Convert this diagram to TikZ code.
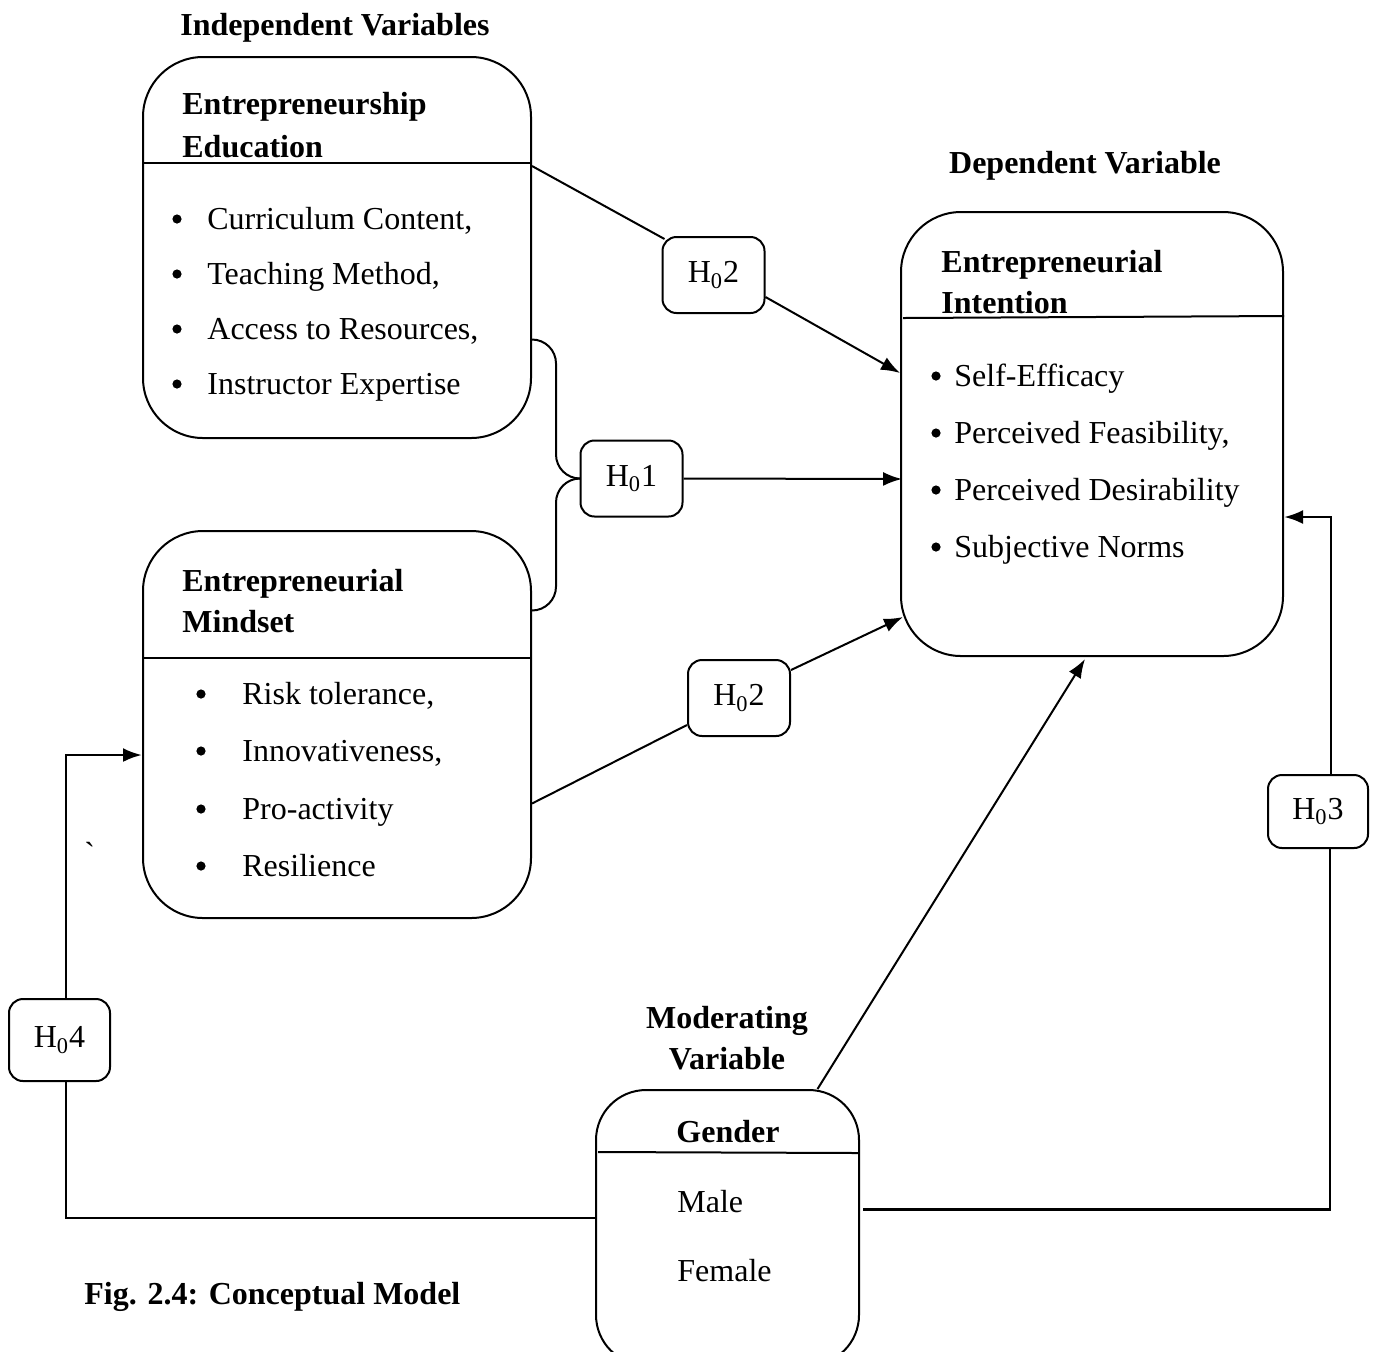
\documentclass[tikz,border=0pt]{standalone}
\usepackage{fontspec}
\setmainfont{Liberation Serif}
\usetikzlibrary{calc,arrows.meta,positioning}

\begin{document}
\begin{tikzpicture}[x=0.5pt,y=-0.5pt,>={Latex[length=9.5pt,width=7pt]},
	box/.style={draw,line width=1pt,rounded corners=30pt,inner sep=0pt},
	hyp/.style={draw,line width=1pt,rounded corners=7pt,minimum width=51pt,minimum height=38pt,inner sep=0pt,font=\fontsize{16}{19}\selectfont},
	head/.style={font=\fontsize{16}{19}\selectfont\bfseries,anchor=base west,inner sep=0pt},
	item/.style={font=\fontsize{16}{19}\selectfont,anchor=base west,inner sep=0pt},
	dot/.style={circle,fill,inner sep=0pt,minimum size=4.6pt},
	link/.style={line width=1pt},
	loop/.style={line width=1.4pt}]
	\useasboundingbox (0,0) rectangle (1374,1351);
	\clip (0,0) rectangle (1374,1351);

	% boxes
	\node (EE)  at (337,247.5)    [box,minimum width=194pt,minimum height=190.5pt] {};
	\node (EM)  at (337,724.5)    [box,minimum width=194pt,minimum height=193.5pt] {};
	\node (EI)  at (1092,434)     [box,minimum width=191pt,minimum height=222pt]   {};
	\node (G)   at (727.5,1227.5) [box,rounded corners=25pt,minimum width=131.5pt,minimum height=137.5pt] {};
	\draw [link] (143,163) -- (532,163);
	\draw [link] (143,658) -- (531,658);
	\draw [link] (903,318) -- (1284,316);
	\draw [link] (598,1152) -- (859,1153);

	% hypotheses
	\node (H2a) at (713.5,275)  [hyp] {H\textsubscript{0}2};
	\node (H1)  at (631.5,478.5)[hyp] {H\textsubscript{0}1};
	\node (H2b) at (739,698)    [hyp] {H\textsubscript{0}2};
	\node (H3)  at (1318,811.5) [hyp,minimum width=50pt,minimum height=36.5pt] {H\textsubscript{0}3};
	\node (H4)  at (59.5,1040)  [hyp,minimum width=50.5pt,minimum height=41pt] {H\textsubscript{0}4};

	% headings
	\node (tIV) at (335,35)   [head,anchor=base] {Independent Variables};
	\node (tDV) at (1085,173) [head,anchor=base] {Dependent Variable};
	\node (tMV1) at (727,1028) [head,anchor=base] {Moderating};
	\node (tMV2) at (727,1069) [head,anchor=base] {Variable};
	\node (cap) at (84,1304)  [head] {Fig. 2.4: Conceptual Model};

	% Entrepreneurship Education
	\node (ee1) at (182,114) [head] {Entrepreneurship};
	\node (ee2) at (182,157) [head] {Education};
	\node (eeb1) at (177,219) [dot] {};
	\node (eeb2) at (177,274) [dot] {};
	\node (eeb3) at (177,329) [dot] {};
	\node (eeb4) at (177,384) [dot] {};
	\node (eei1) at (207,229) [item] {Curriculum Content,};
	\node (eei2) at (207,284) [item] {Teaching Method,};
	\node (eei3) at (207,339) [item] {Access to Resources,};
	\node (eei4) at (207,394) [item] {Instructor Expertise};

	% Entrepreneurial Mindset
	\node (em1) at (182,591) [head] {Entrepreneurial};
	\node (em2) at (182,632) [head] {Mindset};
	\node (emb1) at (201,694) [dot] {};
	\node (emb2) at (201,751) [dot] {};
	\node (emb3) at (201,809) [dot] {};
	\node (emb4) at (201,866) [dot] {};
	\node (emi1) at (242,704) [item] {Risk tolerance,};
	\node (emi2) at (242,761) [item] {Innovativeness,};
	\node (emi3) at (242,819) [item] {Pro-activity};
	\node (emi4) at (242,876) [item] {Resilience};
	\node (tick) at (84,864) [item] {\textasciigrave};

	% Entrepreneurial Intention
	\node (ei1) at (941,272) [head] {Entrepreneurial};
	\node (ei2) at (941,313) [head] {Intention};
	\node (eib1) at (936,376) [dot] {};
	\node (eib2) at (936,433) [dot] {};
	\node (eib3) at (936,490) [dot] {};
	\node (eib4) at (936,547) [dot] {};
	\node (eii1) at (954,386) [item] {Self-Efficacy};
	\node (eii2) at (954,443) [item] {Perceived Feasibility,};
	\node (eii3) at (954,500) [item] {Perceived Desirability};
	\node (eii4) at (954,557) [item] {Subjective Norms};

	% Gender
	\node (g0) at (728,1142) [head,anchor=base] {Gender};
	\node (g1) at (677,1212) [item] {Male};
	\node (g2) at (677,1281) [item] {Female};

	% connectors
	\draw [link]    ($(EE.north east)+(0,110)$) -- ($(H2a.north west)+(3,3)$);
	\draw [link,->] ($(H2a.east)+(0,22)$) -- ($(EI.west)+(0,-61)$);
	\draw [link,rounded corners=12pt] ($(EE.east)+(0,92)$) -- ++(24,0) |- (H1.west);
	\draw [link,rounded corners=12pt] ($(EM.east)+(0,-114)$) -- ++(24,0) |- (H1.west);
	\draw [link,->] (H1.east) -- ($(EI.west)+(2,45)$);
	\draw [link]    ($(EM.east)+(0,79)$) -- ($(H2b.west)+(0,27)$);
	\draw [link,->] ($(H2b.east)+(0,-28)$) -- ($(EI.west)+(3,183)$);
	\draw [link,->] ($(G.north)+(90,0)$) -- ($(EI.south)+(-7,2)$);
	\draw [loop]    ($(G.east)+(3,-18)$) -| ($(H3.south)+(12,0)$);
	\draw [loop,->] ($(H3.north)+(13,0)$) |- ($(EI.east)+(0,83)$);
	\draw [loop]    ($(G.west)+(0,-9.5)$) -| ($(H4.south)+(6.5,0)$);
	\draw [loop,->] ($(H4.north)+(6.5,0)$) |- ($(EM.west)+(0,30.5)$);
\end{tikzpicture}
\end{document}
